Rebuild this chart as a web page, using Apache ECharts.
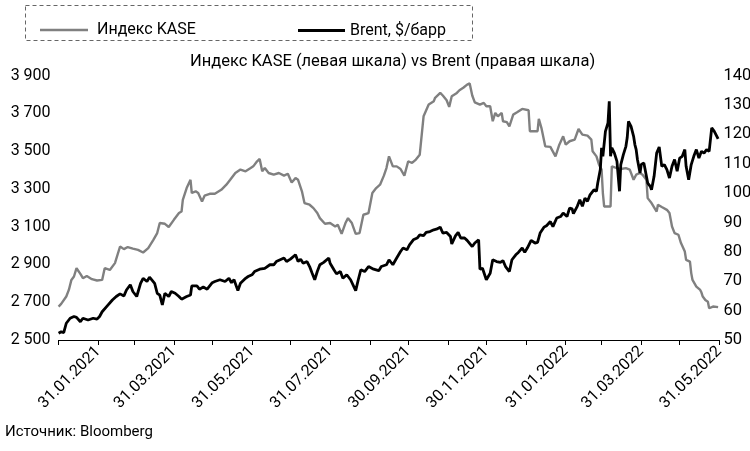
<!DOCTYPE html>
<html>
<head>
<meta charset="utf-8">
<script src="https://cdn.jsdelivr.net/npm/echarts@6/dist/echarts.min.js"></script>
<style>
  html, body { margin: 0; padding: 0; background: #fff; }
  #chart { width: 750px; height: 451px; }
</style>
</head>
<body>
<div id="chart"></div>
<script>
// Индекс KASE (левая шкала)
const kaseDates = [
  '2020-12-31', '2021-01-02', '2021-01-06', '2021-01-08', '2021-01-10', '2021-01-12', '2021-01-14', '2021-01-17',
  '2021-01-19', '2021-01-22', '2021-01-26', '2021-01-30', '2021-02-03', '2021-02-05', '2021-02-09', '2021-02-13',
  '2021-02-17', '2021-02-20', '2021-02-23', '2021-02-27', '2021-03-03', '2021-03-07', '2021-03-11', '2021-03-15',
  '2021-03-18', '2021-03-20', '2021-03-24', '2021-03-27', '2021-03-31', '2021-04-04', '2021-04-06', '2021-04-07',
  '2021-04-10', '2021-04-13', '2021-04-14', '2021-04-17', '2021-04-19', '2021-04-22', '2021-04-24', '2021-04-28',
  '2021-05-02', '2021-05-07', '2021-05-11', '2021-05-14', '2021-05-18', '2021-05-22', '2021-05-26', '2021-05-30',
  '2021-06-01', '2021-06-04', '2021-06-06', '2021-06-08', '2021-06-10', '2021-06-13', '2021-06-17', '2021-06-21',
  '2021-06-25', '2021-06-28', '2021-07-01', '2021-07-04', '2021-07-06', '2021-07-09', '2021-07-11', '2021-07-15',
  '2021-07-18', '2021-07-21', '2021-07-23', '2021-07-27', '2021-07-31', '2021-08-04', '2021-08-06', '2021-08-09',
  '2021-08-12', '2021-08-14', '2021-08-17', '2021-08-20', '2021-08-23', '2021-08-26', '2021-08-30', '2021-09-02',
  '2021-09-05', '2021-09-08', '2021-09-11', '2021-09-13', '2021-09-15', '2021-09-18', '2021-09-21', '2021-09-24',
  '2021-09-27', '2021-09-30', '2021-10-03', '2021-10-06', '2021-10-09', '2021-10-12', '2021-10-16', '2021-10-20',
  '2021-10-21', '2021-10-25', '2021-10-27', '2021-10-30', '2021-11-01', '2021-11-03', '2021-11-07', '2021-11-09',
  '2021-11-12', '2021-11-15', '2021-11-17', '2021-11-19', '2021-11-21', '2021-11-25', '2021-11-28', '2021-11-30',
  '2021-12-03', '2021-12-05', '2021-12-07', '2021-12-09', '2021-12-12', '2021-12-13', '2021-12-16', '2021-12-18',
  '2021-12-21', '2021-12-24', '2021-12-28', '2022-01-02', '2022-01-03', '2022-01-07', '2022-01-09', '2022-01-10',
  '2022-01-12', '2022-01-15', '2022-01-19', '2022-01-23', '2022-01-26', '2022-01-29', '2022-01-31', '2022-02-03',
  '2022-02-07', '2022-02-10', '2022-02-13', '2022-02-17', '2022-02-20', '2022-02-21', '2022-02-24', '2022-02-26',
  '2022-02-28', '2022-03-01', '2022-03-02', '2022-03-05', '2022-03-07', '2022-03-08', '2022-03-12', '2022-03-15',
  '2022-03-19', '2022-03-22', '2022-03-25', '2022-03-27', '2022-03-30', '2022-04-01', '2022-04-04', '2022-04-05',
  '2022-04-08', '2022-04-12', '2022-04-13', '2022-04-16', '2022-04-20', '2022-04-22', '2022-04-24', '2022-04-26',
  '2022-04-29', '2022-05-01', '2022-05-04', '2022-05-05', '2022-05-08', '2022-05-09', '2022-05-10', '2022-05-13',
  '2022-05-16', '2022-05-17', '2022-05-18', '2022-05-20', '2022-05-22', '2022-05-23', '2022-05-26', '2022-05-30'
];
const kaseValues = [
  2677, 2691, 2730, 2765, 2818, 2836, 2880, 2850,
  2827, 2839, 2822, 2815, 2818, 2880, 2871, 2907,
  2995, 2981, 2992, 2984, 2977, 2963, 2986, 3030,
  3066, 3119, 3115, 3098, 3136, 3172, 3180, 3242,
  3304, 3348, 3278, 3287, 3278, 3233, 3264, 3274,
  3274, 3295, 3322, 3348, 3384, 3402, 3393, 3410,
  3419, 3446, 3458, 3393, 3410, 3384, 3375, 3384,
  3370, 3380, 3334, 3357, 3348, 3287, 3225, 3216,
  3198, 3172, 3145, 3115, 3119, 3101, 3110, 3062,
  3119, 3145, 3119, 3062, 3066, 3163, 3172, 3278,
  3304, 3322, 3370, 3410, 3472, 3419, 3419, 3405,
  3370, 3446, 3437, 3455, 3481, 3684, 3746, 3764,
  3782, 3808, 3794, 3769, 3734, 3790, 3808, 3822,
  3835, 3852, 3858, 3794, 3758, 3746, 3755, 3737,
  3737, 3658, 3702, 3684, 3702, 3658, 3653, 3631,
  3693, 3705, 3723, 3716, 3605, 3605, 3605, 3670,
  3623, 3525, 3522, 3472, 3534, 3578, 3534, 3552,
  3561, 3617, 3587, 3582, 3561, 3499, 3472, 3428,
  3402, 3278, 3207, 3207, 3207, 3419, 3410, 3405,
  3410, 3402, 3348, 3375, 3384, 3375, 3348, 3251,
  3225, 3180, 3216, 3204, 3189, 3172, 3101, 3066,
  3057, 3013, 2968, 2924, 2915, 2854, 2818, 2783,
  2765, 2751, 2730, 2712, 2703, 2668, 2677, 2674
];

// Brent, $/барр (правая шкала)
const brentDates = [
  '2020-12-31', '2021-01-02', '2021-01-04', '2021-01-06', '2021-01-09', '2021-01-12', '2021-01-14', '2021-01-17',
  '2021-01-19', '2021-01-23', '2021-01-27', '2021-01-30', '2021-02-01', '2021-02-03', '2021-02-07', '2021-02-11',
  '2021-02-14', '2021-02-17', '2021-02-20', '2021-02-22', '2021-02-25', '2021-02-27', '2021-03-02', '2021-03-05',
  '2021-03-07', '2021-03-10', '2021-03-12', '2021-03-16', '2021-03-18', '2021-03-20', '2021-03-22', '2021-03-24',
  '2021-03-27', '2021-03-29', '2021-04-01', '2021-04-04', '2021-04-06', '2021-04-10', '2021-04-13', '2021-04-14',
  '2021-04-18', '2021-04-20', '2021-04-23', '2021-04-26', '2021-04-30', '2021-05-02', '2021-05-06', '2021-05-10',
  '2021-05-13', '2021-05-15', '2021-05-17', '2021-05-20', '2021-05-22', '2021-05-26', '2021-05-28', '2021-05-31',
  '2021-06-02', '2021-06-06', '2021-06-10', '2021-06-14', '2021-06-17', '2021-06-19', '2021-06-22', '2021-06-25',
  '2021-06-27', '2021-06-30', '2021-07-04', '2021-07-06', '2021-07-08', '2021-07-10', '2021-07-13', '2021-07-15',
  '2021-07-17', '2021-07-19', '2021-07-21', '2021-07-23', '2021-07-26', '2021-07-30', '2021-07-31', '2021-08-03',
  '2021-08-05', '2021-08-08', '2021-08-10', '2021-08-13', '2021-08-16', '2021-08-20', '2021-08-22', '2021-08-24',
  '2021-08-27', '2021-08-30', '2021-09-03', '2021-09-07', '2021-09-09', '2021-09-13', '2021-09-15', '2021-09-18',
  '2021-09-21', '2021-09-24', '2021-09-26', '2021-09-29', '2021-10-01', '2021-10-04', '2021-10-07', '2021-10-09',
  '2021-10-12', '2021-10-14', '2021-10-17', '2021-10-20', '2021-10-22', '2021-10-25', '2021-10-27', '2021-10-30',
  '2021-11-02', '2021-11-03', '2021-11-06', '2021-11-08', '2021-11-10', '2021-11-13', '2021-11-15', '2021-11-19',
  '2021-11-21', '2021-11-24', '2021-11-25', '2021-11-27', '2021-11-30', '2021-12-03', '2021-12-05', '2021-12-08',
  '2021-12-11', '2021-12-13', '2021-12-15', '2021-12-18', '2021-12-20', '2021-12-23', '2021-12-25', '2021-12-28',
  '2021-12-30', '2022-01-01', '2022-01-04', '2022-01-07', '2022-01-09', '2022-01-11', '2022-01-14', '2022-01-16',
  '2022-01-19', '2022-01-21', '2022-01-24', '2022-01-27', '2022-01-29', '2022-02-01', '2022-02-03', '2022-02-05',
  '2022-02-06', '2022-02-09', '2022-02-11', '2022-02-13', '2022-02-15', '2022-02-17', '2022-02-19', '2022-02-22',
  '2022-02-24', '2022-02-25', '2022-02-27', '2022-02-28', '2022-03-01', '2022-03-03', '2022-03-05', '2022-03-06',
  '2022-03-07', '2022-03-08', '2022-03-10', '2022-03-12', '2022-03-14', '2022-03-15', '2022-03-17', '2022-03-19',
  '2022-03-20', '2022-03-21', '2022-03-23', '2022-03-25', '2022-03-26', '2022-03-27', '2022-03-28', '2022-03-30',
  '2022-03-31', '2022-04-02', '2022-04-03', '2022-04-05', '2022-04-07', '2022-04-08', '2022-04-10', '2022-04-12',
  '2022-04-14', '2022-04-16', '2022-04-18', '2022-04-20', '2022-04-22', '2022-04-24', '2022-04-26', '2022-04-28',
  '2022-04-30', '2022-05-02', '2022-05-04', '2022-05-05', '2022-05-07', '2022-05-09', '2022-05-11', '2022-05-13',
  '2022-05-15', '2022-05-17', '2022-05-19', '2022-05-21', '2022-05-23', '2022-05-25', '2022-05-27', '2022-05-29',
  '2022-05-30'
];
const brentValues = [
  52.3, 52.8, 52.5, 55.7, 57.4, 58.0, 57.7, 56.2,
  57.4, 56.8, 57.4, 57.1, 58.0, 59.6, 61.6, 63.6,
  64.8, 65.7, 65.0, 67.0, 68.8, 66.5, 64.8, 69.3,
  71.0, 69.9, 71.4, 69.3, 65.9, 65.3, 61.9, 65.9,
  64.8, 66.5, 65.9, 64.8, 63.9, 64.8, 65.3, 68.4,
  68.4, 67.3, 68.0, 67.3, 69.5, 69.9, 70.5, 69.9,
  71.0, 69.5, 70.5, 66.8, 69.3, 71.0, 71.6, 72.2,
  73.3, 74.1, 74.4, 75.6, 75.6, 76.7, 77.3, 77.9,
  76.7, 77.5, 79.0, 76.7, 77.5, 76.1, 76.7, 75.0,
  72.7, 70.5, 73.3, 75.6, 76.4, 77.9, 76.1, 73.9,
  72.5, 73.3, 71.0, 72.2, 70.5, 66.8, 70.5, 73.9,
  73.3, 75.0, 74.1, 73.6, 75.0, 75.6, 77.3, 75.6,
  77.9, 80.1, 81.3, 80.7, 82.4, 84.1, 84.7, 85.8,
  85.5, 86.6, 86.9, 87.5, 87.7, 88.4, 86.4, 86.6,
  85.2, 82.7, 85.5, 86.6, 84.7, 84.7, 83.9, 81.8,
  83.0, 84.1, 74.1, 74.4, 70.5, 72.7, 77.3, 76.7,
  76.4, 77.0, 75.0, 73.3, 77.3, 79.0, 79.8, 81.3,
  79.8, 81.3, 83.9, 83.0, 83.2, 86.4, 88.4, 88.9,
  90.3, 88.6, 91.5, 92.0, 93.2, 92.0, 94.9, 94.6,
  93.0, 95.5, 97.7, 95.5, 98.3, 97.2, 99.4, 101.1,
  100.6, 103.4, 108.0, 115.4, 112.5, 121.0, 123.9, 131.2,
  112.5, 115.4, 113.6, 110.8, 100.6, 109.7, 113.1, 115.9,
  118.8, 124.4, 122.7, 119.3, 116.5, 114.8, 111.4, 106.8,
  109.7, 110.2, 108.0, 103.4, 102.3, 101.1, 105.7, 113.6,
  115.7, 109.1, 109.7, 108.0, 105.1, 109.1, 111.4, 107.4,
  111.9, 112.5, 114.8, 109.1, 104.5, 109.7, 112.5, 114.8,
  111.9, 114.2, 113.6, 114.8, 114.2, 122.2, 121.0, 119.3,
  118.4
];

// x axis: ticks at month ends, labels every second month
const tickDates = [
  '2020-12-31', '2021-01-31', '2021-02-28', '2021-03-31', '2021-04-30', '2021-05-31',
  '2021-06-30', '2021-07-31', '2021-08-31', '2021-09-30', '2021-10-31', '2021-11-30',
  '2021-12-31', '2022-01-31', '2022-02-28', '2022-03-31', '2022-04-30', '2022-05-31'
];
const labelDates = [
  '2021-01-31', '2021-03-31', '2021-05-31', '2021-07-31', '2021-09-30',
  '2021-11-30', '2022-01-31', '2022-03-31', '2022-05-31'
];

const FONT = 'Roboto';

// one category per calendar day, first to last tick
function dayRange(from, to) {
  const out = [];
  const pad = n => (n < 10 ? '0' : '') + n;
  const a = from.split('-'), b = to.split('-');
  const d = new Date(Date.UTC(+a[0], +a[1] - 1, +a[2]));
  const end = Date.UTC(+b[0], +b[1] - 1, +b[2]);
  while (d.getTime() <= end) {
    out.push(d.getUTCFullYear() + '-' + pad(d.getUTCMonth() + 1) + '-' + pad(d.getUTCDate()));
    d.setUTCDate(d.getUTCDate() + 1);
  }
  return out;
}

function spaced(v) {
  return String(v).replace(/\B(?=(\d{3})+(?!\d))/g, ' ');
}

function dateLabel(s) {
  const p = s.split('-');
  return p[2] + '.' + p[1] + '.' + p[0];
}

const days = dayRange(tickDates[0], tickDates[tickDates.length - 1]);

const chart = echarts.init(document.getElementById('chart'));

chart.setOption({
  animation: false,
  textStyle: { fontFamily: FONT },
  title: {
    text: 'Индекс KASE (левая шкала) vs Brent (правая шкала)',
    left: 190,
    top: 53,
    padding: 0,
    textStyle: { fontSize: 16.5, fontWeight: 'normal', color: '#000', fontFamily: FONT }
  },
  legend: [
    {
      data: [{ name: 'Индекс KASE', icon: 'rect' }],
      left: 40, top: 22, padding: 0,
      itemWidth: 48, itemHeight: 2.5,
      textStyle: { fontSize: 16, color: '#000', fontFamily: FONT, padding: [0, 0, 0, 4] }
    },
    {
      data: [{ name: 'Brent, $/барр', icon: 'rect' }],
      left: 298, top: 22.5, padding: 0,
      itemWidth: 47, itemHeight: 3,
      textStyle: { fontSize: 16, color: '#000', fontFamily: FONT }
    }
  ],
  graphic: [
    {
      type: 'rect',
      shape: { x: 25.5, y: 5.5, width: 447, height: 35 },
      style: { fill: null, stroke: '#666', lineWidth: 1, lineDash: [4, 3] }
    },
    {
      type: 'text',
      left: 5, top: 425,
      style: { text: 'Источник: Bloomberg', fontSize: 15, fill: '#000', fontFamily: FONT }
    }
  ],
  grid: { left: 58.6, right: 30.6, top: 75.5, bottom: 111, outerBoundsMode: 'none' },
  xAxis: {
    type: 'category',
    data: days,
    boundaryGap: false,
    axisLine: { lineStyle: { color: '#000', width: 1 } },
    axisTick: {
      show: true,
      length: 5,
      interval: (i, v) => tickDates.indexOf(v) >= 0,
      lineStyle: { color: '#000', width: 1 }
    },
    axisLabel: {
      interval: (i, v) => labelDates.indexOf(v) >= 0,
      rotate: 45,
      margin: 9,
      fontSize: 16,
      color: '#000',
      fontFamily: FONT,
      formatter: dateLabel
    },
    splitLine: { show: false }
  },
  yAxis: [
    {
      type: 'value',
      position: 'left',
      min: 2500, max: 3900, interval: 200,
      axisLine: { show: false },
      axisTick: { show: false },
      splitLine: { show: false },
      axisLabel: { fontSize: 16, color: '#000', margin: 8, fontFamily: FONT, formatter: spaced }
    },
    {
      type: 'value',
      position: 'right',
      min: 50, max: 140, interval: 10,
      axisLine: { show: false },
      axisTick: { show: false },
      splitLine: { show: false },
      axisLabel: { fontSize: 16.5, color: '#000', margin: 4, fontFamily: FONT }
    }
  ],
  series: [
    {
      name: 'Индекс KASE',
      type: 'line',
      yAxisIndex: 0,
      symbol: 'none',
      color: '#808080',
      lineStyle: { color: '#808080', width: 2.4 },
      data: kaseDates.map((d, i) => [d, kaseValues[i]])
    },
    {
      name: 'Brent, $/барр',
      type: 'line',
      yAxisIndex: 1,
      symbol: 'none',
      color: '#000',
      lineStyle: { color: '#000', width: 2.8 },
      data: brentDates.map((d, i) => [d, brentValues[i]])
    }
  ]
});

window.addEventListener('resize', () => chart.resize());
</script>
</body>
</html>
